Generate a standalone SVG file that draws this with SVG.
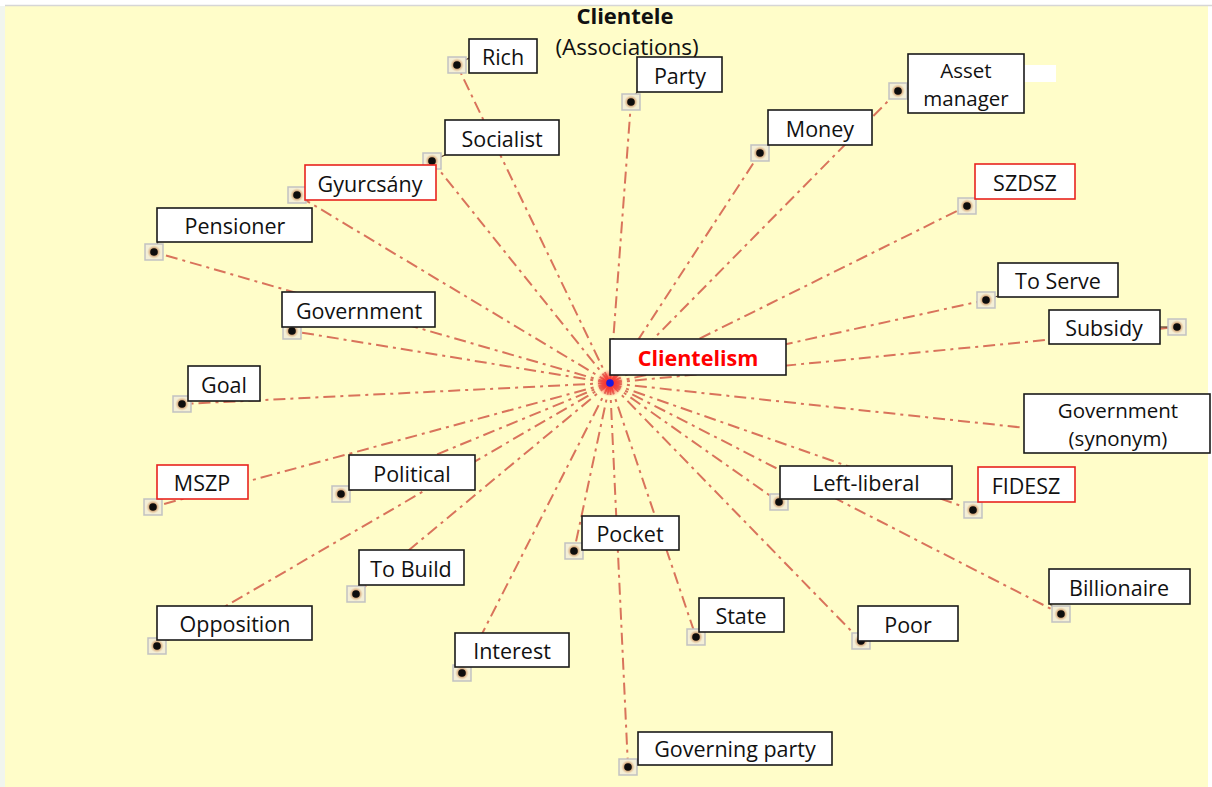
<svg xmlns="http://www.w3.org/2000/svg" xmlns:xlink="http://www.w3.org/1999/xlink" width="1212" height="787" viewBox="0 0 1212 787">
  <style>
    .box { fill: #ffffff; stroke: #1a1a1a; stroke-width: 1.6; }
    .box.red { stroke: #e8231f; }
    .lbl { font-family: "Open Sans", "Liberation Sans", sans-serif; font-size: 21.5px; fill: #111; text-anchor: middle; dominant-baseline: central; }
    .lbl.two { font-size: 20.5px; }
    .link { stroke: #d9735b; stroke-width: 2; fill: none; stroke-dasharray: 12 5 3 5; }
    .tick { stroke: #5a3a2a; stroke-width: 1.2; }
    .title { font-family: "Open Sans", "Liberation Sans", sans-serif; fill: #111; text-anchor: middle; }
  </style>
  <defs>
    <radialGradient id="halo">
      <stop offset="0" stop-color="#6a2c08" stop-opacity="1"/>
      <stop offset="0.6" stop-color="#b86a30" stop-opacity="0.5"/>
      <stop offset="1" stop-color="#e8b070" stop-opacity="0"/>
    </radialGradient>
    <radialGradient id="burst">
      <stop offset="0" stop-color="#ff1a1a" stop-opacity="0.95"/>
      <stop offset="0.6" stop-color="#ff3030" stop-opacity="0.6"/>
      <stop offset="1" stop-color="#ff6060" stop-opacity="0"/>
    </radialGradient>
    <g id="pin">
      <rect x="-9" y="-8" width="18" height="16" fill="#f4efd6" stroke="#c2c2c2" stroke-width="1.5"/>
      <circle r="7" fill="url(#halo)"/>
      <circle r="3.8" fill="#0d0d0d"/>
    </g>
  </defs>

  <!-- canvas -->
  <rect x="0" y="0" width="1212" height="787" fill="#ffffff"/>
  <rect x="5" y="5" width="1203" height="782" fill="#fffdc9"/>
  <line x1="5" y1="5.5" x2="1212" y2="5.5" stroke="#d6d6d6" stroke-width="1.5"/>
  <rect x="0" y="6" width="5" height="781" fill="#f1f5ee"/>

  <!-- title -->
  <g id="title">
    <text class="title" x="625" y="24" font-size="22" font-weight="bold">Clientele</text>
    <text class="title" x="627" y="55" font-size="22.5">(Associations)</text>
  </g>

  <!-- connectors from the hub to each term -->
  <g id="connectors">
    <line class="link" x1="610" y1="383" x2="457" y2="65"/>
    <line class="link" x1="610" y1="383" x2="631" y2="102"/>
    <line class="link" x1="610" y1="383" x2="898" y2="91"/>
    <line class="link" x1="610" y1="383" x2="760" y2="153"/>
    <line class="link" x1="610" y1="383" x2="967" y2="206"/>
    <line class="link" x1="610" y1="383" x2="432" y2="161"/>
    <line class="link" x1="610" y1="383" x2="297" y2="195"/>
    <line class="link" x1="610" y1="383" x2="154" y2="252"/>
    <line class="link" x1="610" y1="383" x2="292" y2="331"/>
    <line class="link" x1="610" y1="383" x2="182" y2="404"/>
    <line class="link" x1="610" y1="383" x2="153" y2="507"/>
    <line class="link" x1="610" y1="383" x2="341" y2="494"/>
    <line class="link" x1="610" y1="383" x2="356" y2="594"/>
    <line class="link" x1="610" y1="383" x2="157" y2="646"/>
    <line class="link" x1="610" y1="383" x2="462" y2="673"/>
    <line class="link" x1="610" y1="383" x2="574" y2="551"/>
    <line class="link" x1="610" y1="383" x2="696" y2="637"/>
    <line class="link" x1="610" y1="383" x2="628" y2="767"/>
    <line class="link" x1="610" y1="383" x2="861" y2="641"/>
    <line class="link" x1="610" y1="383" x2="1061" y2="614"/>
    <line class="link" x1="610" y1="383" x2="779" y2="502"/>
    <line class="link" x1="610" y1="383" x2="973" y2="510"/>
    <line class="link" x1="610" y1="383" x2="1177" y2="327"/>
    <line class="link" x1="610" y1="383" x2="986" y2="300"/>
    <line class="link" x1="610" y1="383" x2="1100" y2="436"/>
  </g>

  <!-- hub -->
  <g id="hub">
    <circle cx="610" cy="383" r="14" fill="url(#burst)"/>
    <circle cx="610" cy="383" r="3.8" fill="#1a1ae0"/>
  </g>

  <g id="n-clientelism">
    <rect class="box" x="610" y="339" width="176" height="36"/>
    <text class="lbl" x="698" y="357" font-weight="bold" font-size="23.5" style="fill:#ff0000">Clientelism</text>
  </g>

  <g id="n-rich">
    <line class="tick" x1="457" y1="65" x2="469" y2="58"/>
    <use href="#pin" x="457" y="65"/>
    <rect class="box" x="469" y="39" width="68" height="34"/>
    <text class="lbl" x="503" y="56">Rich</text>
  </g>

  <g id="n-party">
    <line class="tick" x1="631" y1="102" x2="637" y2="92"/>
    <use href="#pin" x="631" y="102"/>
    <rect class="box" x="637" y="57" width="85" height="35"/>
    <text class="lbl" x="680" y="75">Party</text>
  </g>

  <g id="n-asset-manager">
    <rect x="1024" y="65" width="32" height="17" fill="#ffffff"/>
    <line class="tick" x1="898" y1="91" x2="908" y2="88"/>
    <use href="#pin" x="898" y="91"/>
    <rect class="box" x="908" y="54" width="116" height="59"/>
    <text class="lbl two" x="966" y="69.5">Asset</text>
    <text class="lbl two" x="966" y="97.5">manager</text>
  </g>

  <g id="n-money">
    <line class="tick" x1="760" y1="153" x2="768" y2="145"/>
    <use href="#pin" x="760" y="153"/>
    <rect class="box" x="768" y="110" width="104" height="35"/>
    <text class="lbl" x="820" y="128">Money</text>
  </g>

  <g id="n-szdsz">
    <line class="tick" x1="967" y1="206" x2="975" y2="199"/>
    <use href="#pin" x="967" y="206"/>
    <rect class="box red" x="975" y="164" width="100" height="35"/>
    <text class="lbl" x="1025" y="182">SZDSZ</text>
  </g>

  <g id="n-socialist">
    <line class="tick" x1="432" y1="161" x2="445" y2="155"/>
    <use href="#pin" x="432" y="161"/>
    <rect class="box" x="445" y="120" width="114" height="35"/>
    <text class="lbl" x="502" y="138">Socialist</text>
  </g>

  <g id="n-gyurcsany">
    <line class="tick" x1="297" y1="195" x2="305" y2="190"/>
    <use href="#pin" x="297" y="195"/>
    <rect class="box red" x="305" y="165" width="131" height="35"/>
    <text class="lbl" x="370" y="183">Gyurcsány</text>
  </g>

  <g id="n-pensioner">
    <line class="tick" x1="154" y1="252" x2="158" y2="242"/>
    <use href="#pin" x="154" y="252"/>
    <rect class="box" x="157" y="208" width="155" height="34"/>
    <text class="lbl" x="235" y="225">Pensioner</text>
  </g>

  <g id="n-government">
    <line class="tick" x1="292" y1="331" x2="283" y2="327"/>
    <use href="#pin" x="292" y="331"/>
    <rect class="box" x="282" y="292" width="153" height="35"/>
    <text class="lbl" x="359" y="310">Government</text>
  </g>

  <g id="n-goal">
    <line class="tick" x1="182" y1="404" x2="189" y2="400"/>
    <use href="#pin" x="182" y="404"/>
    <rect class="box" x="188" y="366" width="72" height="35"/>
    <text class="lbl" x="224" y="384">Goal</text>
  </g>

  <g id="n-mszp">
    <line class="tick" x1="153" y1="507" x2="158" y2="499"/>
    <use href="#pin" x="153" y="507"/>
    <rect class="box red" x="157" y="465" width="91" height="34"/>
    <text class="lbl" x="202" y="482">MSZP</text>
  </g>

  <g id="n-political">
    <line class="tick" x1="341" y1="494" x2="349" y2="490"/>
    <use href="#pin" x="341" y="494"/>
    <rect class="box" x="349" y="455" width="126" height="35"/>
    <text class="lbl" x="412" y="473">Political</text>
  </g>

  <g id="n-to-build">
    <line class="tick" x1="356" y1="594" x2="359" y2="585"/>
    <use href="#pin" x="356" y="594"/>
    <rect class="box" x="359" y="550" width="105" height="35"/>
    <text class="lbl" x="411" y="568">To Build</text>
  </g>

  <g id="n-opposition">
    <line class="tick" x1="157" y1="646" x2="158" y2="640"/>
    <use href="#pin" x="157" y="646"/>
    <rect class="box" x="157" y="606" width="155" height="34"/>
    <text class="lbl" x="235" y="623">Opposition</text>
  </g>

  <g id="n-interest">
    <line class="tick" x1="462" y1="673" x2="456" y2="667"/>
    <use href="#pin" x="462" y="673"/>
    <rect class="box" x="455" y="633" width="114" height="34"/>
    <text class="lbl" x="512" y="650">Interest</text>
  </g>

  <g id="n-pocket">
    <line class="tick" x1="574" y1="551" x2="582" y2="545"/>
    <use href="#pin" x="574" y="551"/>
    <rect class="box" x="582" y="516" width="97" height="34"/>
    <text class="lbl" x="630" y="533">Pocket</text>
  </g>

  <g id="n-state">
    <line class="tick" x1="696" y1="637" x2="699" y2="632"/>
    <use href="#pin" x="696" y="637"/>
    <rect class="box" x="699" y="598" width="85" height="34"/>
    <text class="lbl" x="741" y="615">State</text>
  </g>

  <g id="n-governing-party">
    <line class="tick" x1="628" y1="767" x2="638" y2="760"/>
    <use href="#pin" x="628" y="767"/>
    <rect class="box" x="638" y="732" width="194" height="33"/>
    <text class="lbl" x="735" y="748">Governing party</text>
  </g>

  <g id="n-poor">
    <line class="tick" x1="861" y1="641" x2="859" y2="640"/>
    <use href="#pin" x="861" y="641"/>
    <rect class="box" x="858" y="606" width="100" height="35"/>
    <text class="lbl" x="908" y="624">Poor</text>
  </g>

  <g id="n-billionaire">
    <line class="tick" x1="1061" y1="614" x2="1050" y2="604"/>
    <use href="#pin" x="1061" y="614"/>
    <rect class="box" x="1049" y="569" width="141" height="35"/>
    <text class="lbl" x="1119" y="587">Billionaire</text>
  </g>

  <g id="n-left-liberal">
    <line class="tick" x1="779" y1="502" x2="781" y2="499"/>
    <use href="#pin" x="779" y="502"/>
    <rect class="box" x="780" y="466" width="172" height="33"/>
    <text class="lbl" x="866" y="482">Left-liberal</text>
  </g>

  <g id="n-fidesz">
    <line class="tick" x1="973" y1="510" x2="978" y2="502"/>
    <use href="#pin" x="973" y="510"/>
    <rect class="box red" x="978" y="467" width="97" height="35"/>
    <text class="lbl" x="1026" y="485">FIDESZ</text>
  </g>

  <g id="n-government-synonym">
    <rect class="box" x="1024" y="394" width="186" height="59"/>
    <text class="lbl two" x="1118" y="409.5">Government</text>
    <text class="lbl two" x="1118" y="437.5">(synonym)</text>
  </g>

  <g id="n-subsidy">
    <line class="tick" x1="1177" y1="327" x2="1160" y2="327" stroke-width="2"/>
    <use href="#pin" x="1177" y="327"/>
    <rect class="box" x="1049" y="310" width="111" height="34"/>
    <text class="lbl" x="1104" y="327">Subsidy</text>
  </g>

  <g id="n-to-serve">
    <line class="tick" x1="986" y1="300" x2="998" y2="296"/>
    <use href="#pin" x="986" y="300"/>
    <rect class="box" x="998" y="263" width="120" height="34"/>
    <text class="lbl" x="1058" y="280">To Serve</text>
  </g>
</svg>
